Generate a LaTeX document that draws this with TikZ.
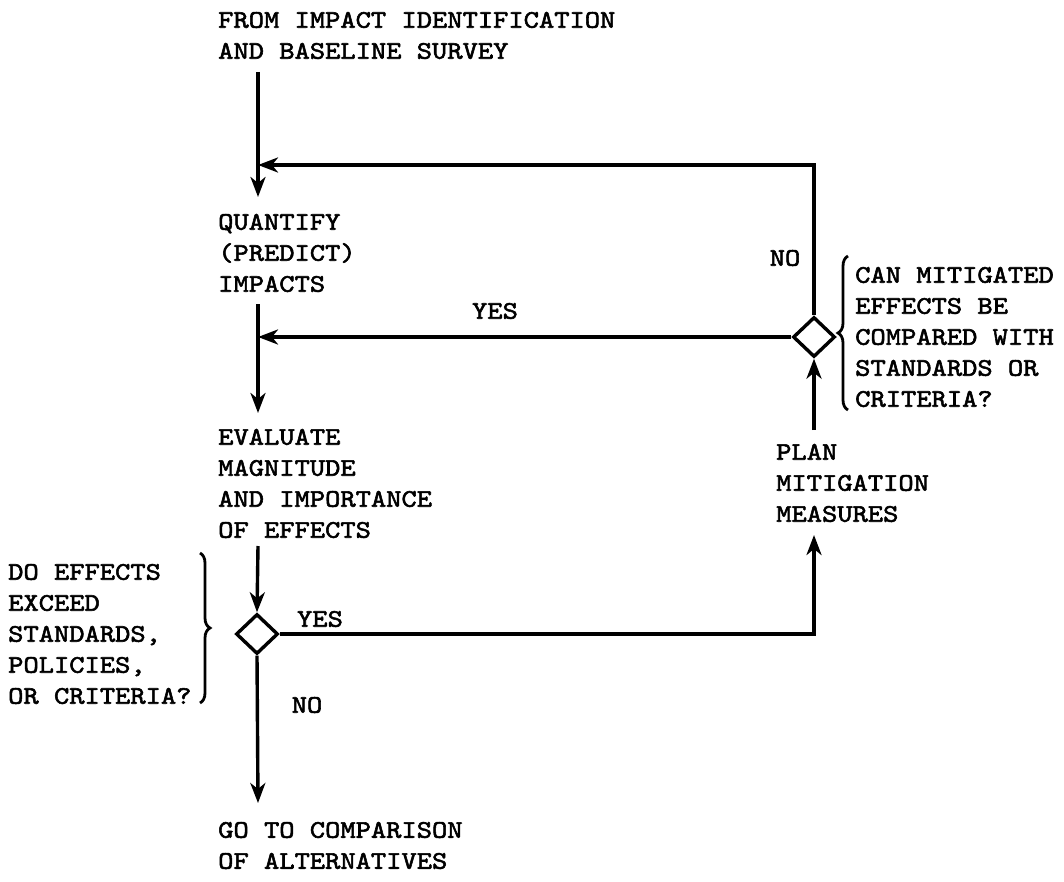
\documentclass[tikz,border=0pt]{standalone}
\usepackage{fontspec}
\newfontfamily\tw{lmmono10-regular.otf}[FakeBold=2.2,FakeStretch=1.15]
\usetikzlibrary{arrows.meta,shapes.geometric,decorations.pathreplacing}
\begin{document}
\begin{tikzpicture}[x=1pt,y=-1pt,
  txt/.style={anchor=west, inner sep=0pt, align=left, font=\tw\fontsize{25.3}{31}\selectfont},
  flow/.style={line width=3.4pt},
  arr/.style={flow, -{Stealth[length=20pt,width=15pt,inset=6pt]}},
  dec/.style={diamond, draw, line width=3.4pt, minimum width=42pt, minimum height=40pt, inner sep=0pt},
  brc/.style={line width=2.8pt, decorate, decoration={brace, amplitude=10pt}}]
\useasboundingbox (0,0) rectangle (1064,882);

% text blocks
\node[txt] (from) at (218,35.5) {FROM IMPACT IDENTIFICATION\\AND BASELINE SURVEY};
\node[txt] (quant) at (218,253) {QUANTIFY\\(PREDICT)\\IMPACTS};
\node[txt] (eval) at (218,483.5) {EVALUATE\\MAGNITUDE\\AND IMPORTANCE\\OF EFFECTS};
\node[txt] (goto) at (218,845.5) {GO TO COMPARISON\\OF ALTERNATIVES};
\node[txt] (plan) at (776,483) {PLAN\\MITIGATION\\MEASURES};
\node[txt] (qL) at (8,634) {DO EFFECTS\\EXCEED\\STANDARDS,\\POLICIES,\\OR CRITERIA?};
\node[txt] (qR) at (855,337) {CAN MITIGATED\\EFFECTS BE\\COMPARED WITH\\STANDARDS OR\\CRITERIA?};

% labels
\node[txt, anchor=center] (yes1) at (495,311) {YES};
\node[txt, anchor=center] (no1) at (785,258) {NO};
\node[txt, anchor=center] (yes2) at (320,619) {YES};
\node[txt, anchor=center] (no2) at (307,705) {NO};

% decisions
\node[dec] (dR) at (814,337) {};
\node[dec] (dL) at (257,634) {};

% coordinates
\coordinate (a0) at (258,72);
\coordinate (a1) at (258,165);
\coordinate (a2) at (258,197);
\coordinate (c1) at (814,165);
\coordinate (b0) at (258,304);
\coordinate (b1) at (258,337);
\coordinate (b2) at (258,413);
\coordinate (e0) at (258,546);
\coordinate (g1) at (258,803);
\coordinate (c2) at (814,634);
\coordinate (p1) at (814,535);
\coordinate (p0) at (814,430);

% connectors
\draw[arr] (a0) -- (a2);
\draw[arr] (dR.north) -- (c1) -- (a1);
\draw[arr] (b0) -- (b2);
\draw[arr] (dR.west) -- (b1);
\draw[arr] (e0) -- (dL.north);
\draw[arr] (dL.south) -- (g1);
\draw[arr] (dL.east) -- (c2) -- (p1);
\draw[arr] (p0) -- (dR.south);

% braces
\draw[brc] (200,553) -- (200,703);
\draw[brc] (848,410) -- (848,256);
\end{tikzpicture}
\end{document}
